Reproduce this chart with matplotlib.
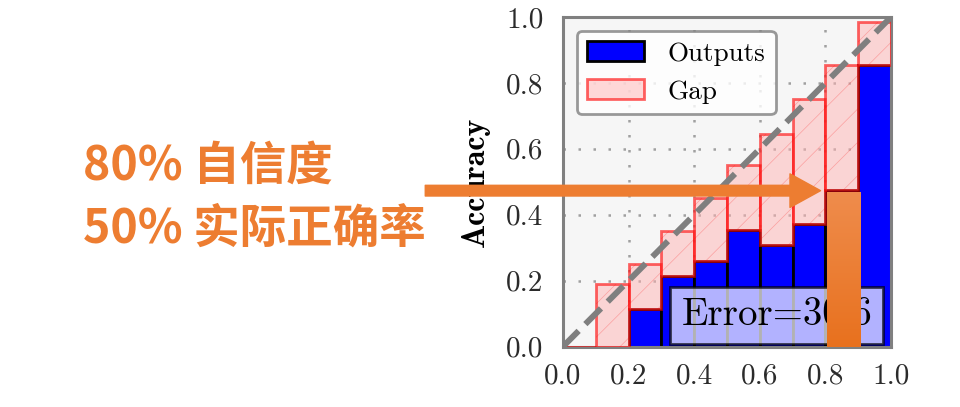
import numpy as np
import matplotlib.pyplot as plt
from matplotlib.colors import LinearSegmentedColormap

# reliability diagram data (10 bins)
bin_lower = [0.0, 0.1, 0.2, 0.3, 0.4, 0.5, 0.6, 0.7, 0.8, 0.9]
outputs = [0.0, 0.0, 0.115, 0.215, 0.26, 0.355, 0.307, 0.373, 0.475, 0.855]
expected = [0.0, 0.19, 0.25, 0.35, 0.45, 0.55, 0.645, 0.75, 0.855, 0.985]
ticks = [0.0, 0.2, 0.4, 0.6, 0.8, 1.0]
error_text = "Error=30.6"

# annotation overlay
note_lines = ["80% 自信度", "50% 实际正确率"]
highlight_conf = 0.80
highlight_acc = 0.47
orange = "#ed7d31"

plt.rcParams["axes.formatter.use_mathtext"] = True
plt.rcParams["hatch.linewidth"] = 0.5

fig = plt.figure(figsize=(9.6, 4.07), dpi=100)
ax = fig.add_axes([0.5865, 0.1486, 0.3417, 0.8096])
ax.set_facecolor("#f6f6f6")

gaps = [e - o for e, o in zip(expected, outputs)]
ax.bar(bin_lower, outputs, width=0.1, align="edge", color="#0000ff",
       edgecolor="black", linewidth=2, label="Outputs", zorder=2)
ax.bar(bin_lower, gaps, bottom=outputs, width=0.1, align="edge",
       color=(1, 0.7, 0.7, 0.5), edgecolor=(1, 0, 0, 0.6),
       linewidth=2, label="Gap", zorder=3)
# faint hatch on top of the gap bars
ax.bar(bin_lower, gaps, bottom=outputs, width=0.1, align="edge",
       fill=False, edgecolor=(1, 0, 0, 0.25), hatch="/", linewidth=0, zorder=3)

ax.plot([0, 1], [0, 1], "--", color="#7f7f7f", lw=4.3, zorder=4)

ax.grid(True, linestyle=(0, (1, 5)), color="#a0a0a0", lw=1.8)
ax.set_axisbelow(True)
ax.set_xlim(0, 1)
ax.set_ylim(0, 1)
ax.set_xticks(ticks)
ax.set_yticks(ticks)
ax.set_xticklabels([f"{t:.1f}" for t in ticks], fontname="cmr10", fontsize=21, color="#2b2b2b")
ax.set_yticklabels([f"{t:.1f}" for t in ticks], fontname="cmr10", fontsize=21, color="#2b2b2b")
ax.tick_params(axis="x", length=0, pad=12)
ax.tick_params(axis="y", length=0, pad=14)
for s in ax.spines.values():
    s.set_color("#808080")
    s.set_linewidth(2.2)

ax.set_ylabel("Accuracy", fontname="cmb10", fontsize=23, labelpad=12)

leg = ax.legend(loc="upper left", prop={"family": "cmr10", "size": 19.5},
                handlelength=2.1, handleheight=0.75, handletextpad=0.85,
                fancybox=True, framealpha=0.8, edgecolor="#808080")
leg.get_frame().set_linewidth(2)
leg.set_zorder(5)

ax.text(0.942, 0.04, error_text, transform=ax.transAxes, ha="right", va="bottom",
        fontname="cmr10", fontsize=28, zorder=6,
        bbox=dict(boxstyle="square,pad=0.28", facecolor="white", edgecolor="black",
                  alpha=0.7, linewidth=2))

# orange highlight bar with vertical gradient
cmap = LinearSegmentedColormap.from_list("og", ["#e8711e", "#ef8c4c"])
grad = np.linspace(0, 1, 100).reshape(-1, 1)
ax.imshow(grad, cmap=cmap, origin="lower", aspect="auto",
          extent=[highlight_conf + 0.005, highlight_conf + 0.108, 0, highlight_acc], zorder=7)
ax.set_xlim(0, 1)
ax.set_ylim(0, 1)

ax.annotate("", xy=(highlight_conf - 0.015, highlight_acc + 0.003),
            xytext=(-0.42, highlight_acc + 0.003),
            xycoords="data", textcoords="data", annotation_clip=False,
            arrowprops=dict(arrowstyle="simple,head_length=1.0,head_width=1.1,tail_width=0.35",
                            color=orange, shrinkA=0, shrinkB=0, mutation_scale=22),
            zorder=8)

fig.text(0.086, 0.558, note_lines[0], color=orange, fontsize=33.5, fontweight="bold",
         family=["Noto Sans CJK SC", "DejaVu Sans"], va="baseline", ha="left")
fig.text(0.086, 0.405, note_lines[1], color=orange, fontsize=33.5, fontweight="bold",
         family=["Noto Sans CJK SC", "DejaVu Sans"], va="baseline", ha="left")

fig.savefig("out.png", dpi=100)
